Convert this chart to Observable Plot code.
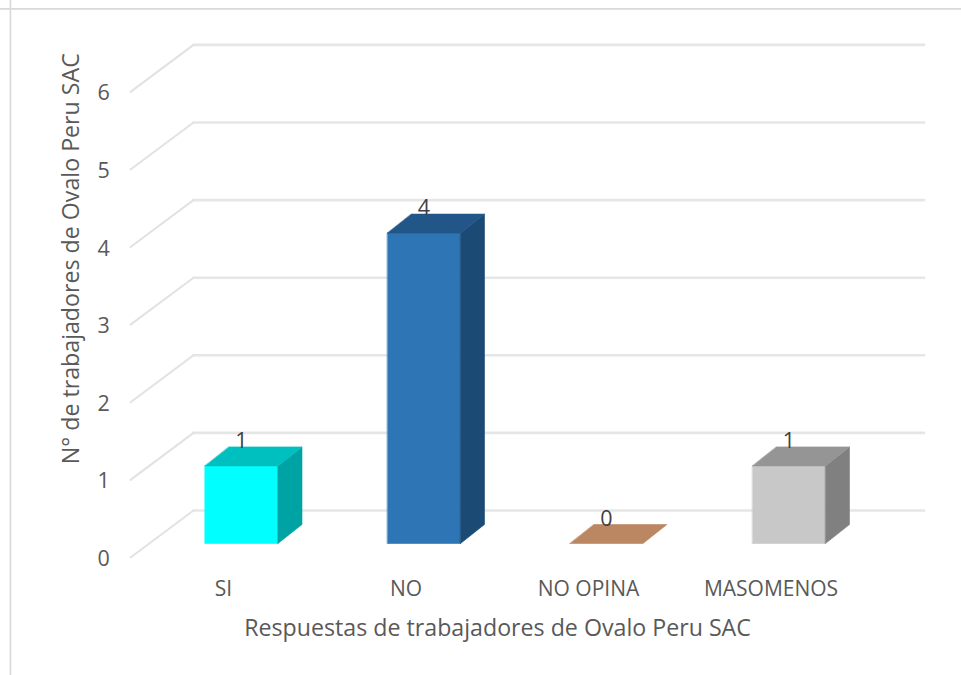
<!DOCTYPE html>
<html lang="es">
<head>
<meta charset="utf-8">
<title>Respuestas de trabajadores</title>
<script src="https://cdn.jsdelivr.net/npm/d3@7"></script>
<script src="https://cdn.jsdelivr.net/npm/@observablehq/plot@0.6"></script>
<style>
html,body{margin:0;padding:0;background:#fff;overflow:hidden}
svg{display:block}
</style>
</head>
<body>
<div id="chart"></div>
<script>
const categories = ["SI", "NO", "NO OPINA", "MASOMENOS"];
const values = [1, 4, 0, 1];
const yTicks = [0, 1, 2, 3, 4, 5, 6];
const frontColors = ["#00FFFF", "#2E75B6", "#C08A66", "#C8C8C8"];
const topColors = ["#00BFBF", "#225588", "#BB8763", "#959595"];
const sideColors = ["#00A3A3", "#1B4A75", "#A0714F", "#808080"];

// 3D oblique offsets, in scale units (category steps, value units)
const barHalf = 0.2, barDx = 0.1315, barDy = 0.245;
const wallX0 = -0.263, wallX1 = 3.74, wallY = 0.425;
const sideX = -0.608, sideY = -0.18;

const bars = categories.map((c, i) => ({c, i, v: values[i], x0: i - barHalf, x1: i + barHalf}));
const faces = [];
let faceId = 0;
bars.forEach(b => {
  const {x0, x1, v, i} = b;
  const add = (pts, fill) => { faceId++; pts.forEach(([x, y]) => faces.push({id: faceId, x, y, fill})); };
  if (v > 0) {
    add([[x0, 0], [x1, 0], [x1, v], [x0, v]], frontColors[i]);
    add([[x1, 0], [x1 + barDx, barDy], [x1 + barDx, v + barDy], [x1, v]], sideColors[i]);
  }
  add([[x0, v], [x1, v], [x1 + barDx, v + barDy], [x0 + barDx, v + barDy]], topColors[i]);
});
const faceGroups = d3.groups(faces, d => d.id).map(([, pts]) => pts);

const backLines = yTicks.map(v => [{x: wallX0, y: v + wallY}, {x: wallX1, y: v + wallY}]);
const sideLines = yTicks.map(v => [{x: sideX, y: v + sideY}, {x: wallX0, y: v + wallY}]);

const ink = "#595959";
const font = "Open Sans";

const chart = Plot.plot({
  width: 961,
  height: 675,
  margin: 0,
  style: {background: "#fff", fontFamily: font},
  x: {axis: null, domain: [0, 3], range: [241, 788.5]},
  y: {axis: null, domain: [0, 6], range: [543, 77.4]},
  marks: [
    Plot.ruleX([-1.266], {stroke: "#d9d9d9", strokeWidth: 1.6}),
    Plot.ruleY([6.89], {stroke: "#d9d9d9", strokeWidth: 1.6}),
    ...backLines.map(l => Plot.line(l, {x: "x", y: "y", stroke: "#e6e6e6", strokeWidth: 2.6})),
    ...sideLines.map(l => Plot.line(l, {x: "x", y: "y", stroke: "#e2e2e2", strokeWidth: 2})),
    ...faceGroups.map(pts => Plot.line(pts, {
      x: "x", y: "y", fill: pts[0].fill, stroke: pts[0].fill, strokeWidth: 0.6, curve: "linear-closed"
    })),
    Plot.text(bars, {
      x: "i", y: d => d.v + 0.32, text: d => String(d.v),
      fontSize: 21.5, fill: "#404040", textAnchor: "middle", lineAnchor: "middle"
    }),
    Plot.text(yTicks, {
      x: () => -0.756, y: d => d + sideY - 0.02, text: d => String(d),
      fontSize: 21.5, fill: ink, textAnchor: "middle", lineAnchor: "middle"
    }),
    Plot.text(bars, {
      x: d => d.i - 0.0986, y: () => -0.593, text: "c",
      fontSize: 21, fill: ink, textAnchor: "middle", lineAnchor: "middle"
    }),
    Plot.text(["Respuestas de trabajadores de Ovalo Peru SAC"], {
      x: () => 1.403, y: () => -1.095, text: d => d,
      fontSize: 23.2, fill: ink, textAnchor: "middle", lineAnchor: "middle"
    }),
    Plot.text(["N° de trabajadores de Ovalo Peru SAC"], {
      x: () => -0.932, y: () => 3.67, text: d => d, rotate: -90,
      fontSize: 23.2, fill: ink, textAnchor: "middle", lineAnchor: "middle"
    })
  ]
});
document.getElementById("chart").append(chart);
</script>
</body>
</html>
